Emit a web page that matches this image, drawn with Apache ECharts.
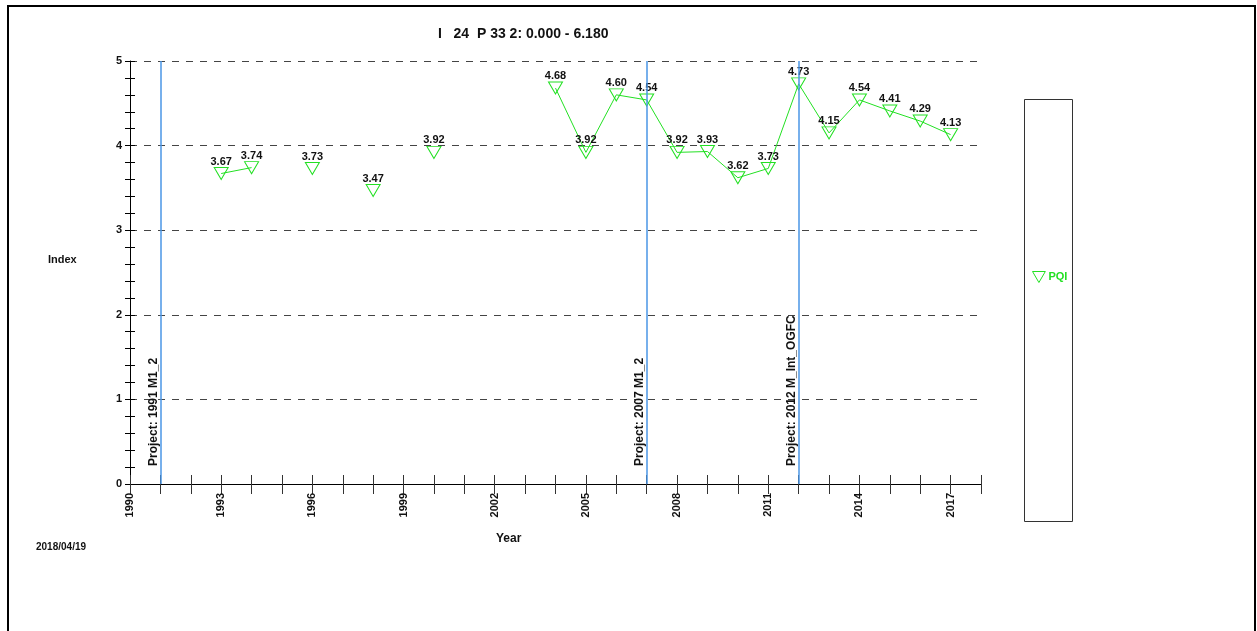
<!DOCTYPE html>
<html>
<head>
<meta charset="utf-8">
<script src="https://cdn.jsdelivr.net/npm/echarts@6/dist/echarts.min.js"></script>
<style>
  html, body { margin: 0; padding: 0; background: #fff; }
  #chart { width: 1257px; height: 631px; }
</style>
</head>
<body>
<div id="chart"></div>
<script>
// survey years and PQI values (null = no survey that year)
const years = [1993, 1994, 1995, 1996, 1997, 1998, 1999, 2000, 2001, 2002, 2003, 2004, 2005,
  2006, 2007, 2008, 2009, 2010, 2011, 2012, 2013, 2014, 2015, 2016, 2017]
const pqi = [3.67, 3.74, null, 3.73, null, 3.47, null, 3.92, null, null, null, 4.68, 3.92,
  4.60, 4.54, 3.92, 3.93, 3.62, 3.73, 4.73, 4.15, 4.54, 4.41, 4.29, 4.13]

// project markers
const projectYears = [1991, 2007, 2012]
const projectNames = ['Project: 1991 M1_2', 'Project: 2007 M1_2', 'Project: 2012 M_Int_OGFC']

const FONT = 'Liberation Sans, Arial, sans-serif'
const GREEN = '#22e022'
const TRI = 'path://M0,0 L14,0 L7,12 Z'

const chart = echarts.init(document.getElementById('chart'))

const option = {
  animation: false,
  title: {
    text: 'I   24  P 33 2: 0.000 - 6.180',
    left: 433,
    top: 22,
    textStyle: { fontFamily: FONT, fontSize: 14, fontWeight: 'bold', color: '#111' }
  },
  legend: {
    left: 1027,
    top: 266,
    orient: 'vertical',
    icon: TRI,
    itemWidth: 13,
    itemHeight: 11,
    itemGap: 4,
    itemStyle: { borderWidth: 1 },
    textStyle: { fontFamily: FONT, fontSize: 11, fontWeight: 'bold', color: GREEN, padding: [0, 0, 0, -2] },
    data: ['PQI']
  },
  grid: { left: 130, right: 276, top: 61, bottom: 147 },
  xAxis: [
    {
      type: 'value',
      min: 1990,
      max: 2018,
      interval: 1,
      axisLine: { lineStyle: { color: '#000', width: 1 } },
      axisTick: { length: 10, lineStyle: { color: '#333' } },
      splitLine: { show: false },
      axisLabel: {
        rotate: 90,
        margin: 9,
        fontFamily: FONT,
        fontSize: 11,
        fontWeight: 'bold',
        color: '#111',
        formatter: v => ((v - 1990) % 3 === 0 ? String(v) : '')
      }
    },
    {
      // inner half of the crossing ticks
      type: 'value',
      min: 1990,
      max: 2018,
      interval: 1,
      position: 'bottom',
      axisLine: { show: false },
      axisTick: { inside: true, length: 9, lineStyle: { color: '#333' } },
      axisLabel: { show: false },
      splitLine: { show: false }
    }
  ],
  yAxis: [
    {
      type: 'value',
      min: 0,
      max: 5,
      interval: 1,
      axisLine: { show: true, lineStyle: { color: '#000', width: 1 } },
      axisTick: { show: true, length: 5, lineStyle: { color: '#000' } },
      minorTick: { show: true, splitNumber: 5, length: 5, lineStyle: { color: '#000' } },
      splitLine: { show: true, lineStyle: { color: '#444', type: [7, 7], width: 1 } },
      axisLabel: { margin: 8, fontFamily: FONT, fontSize: 11, fontWeight: 'bold', color: '#111' }
    },
    {
      type: 'value',
      min: 0,
      max: 5,
      interval: 1,
      position: 'left',
      axisLine: { show: false },
      axisTick: { show: true, inside: true, length: 5, lineStyle: { color: '#000' } },
      minorTick: { show: true, splitNumber: 5, length: 5, lineStyle: { color: '#000' } },
      axisLabel: { show: false },
      splitLine: { show: false }
    }
  ],
  graphic: [
    {
      type: 'polyline',
      shape: { points: [[8, 631], [8, 6], [1255, 6], [1255, 631]] },
      style: { stroke: '#000', lineWidth: 2, fill: null },
      silent: true
    },
    {
      type: 'rect',
      shape: { x: 1024.5, y: 99.5, width: 48, height: 422 },
      style: { stroke: '#333', lineWidth: 1, fill: null },
      silent: true
    },
    {
      type: 'text',
      left: 48,
      top: 254,
      style: { text: 'Index', font: 'bold 11px ' + FONT, fill: '#111' }
    },
    {
      type: 'text',
      left: 496,
      top: 533,
      style: { text: 'Year', font: 'bold 12px ' + FONT, fill: '#111' }
    },
    {
      type: 'text',
      left: 36,
      top: 542,
      style: { text: '2018/04/19', font: 'bold 10px ' + FONT, fill: '#111' }
    }
  ],
  series: [
    {
      name: 'PQI',
      type: 'line',
      data: years.map((y, i) => [y, pqi[i]]),
      connectNulls: false,
      symbol: TRI,
      symbolSize: [14, 12],
      showAllSymbol: true,
      lineStyle: { color: GREEN, width: 1 },
      itemStyle: { color: 'rgba(255,255,255,0)', borderColor: GREEN, borderWidth: 1 },
      label: {
        show: true,
        position: 'top',
        distance: 0,
        fontFamily: FONT,
        fontSize: 11,
        fontWeight: 'bold',
        color: '#111',
        formatter: p => p.value[1].toFixed(2)
      },
      markLine: {
        silent: true,
        symbol: 'none',
        animation: false,
        lineStyle: { color: '#4a96e6', type: 'solid', width: 1.5 },
        label: {
          show: true,
          position: 'insideStartTop',
          distance: [18, 1],
          formatter: '{b}',
          fontFamily: FONT,
          fontSize: 12,
          fontWeight: 'bold',
          color: '#111'
        },
        data: projectYears.map((y, i) => ({ xAxis: y, name: projectNames[i] }))
      }
    }
  ]
}

chart.setOption(option)
</script>
</body>
</html>
